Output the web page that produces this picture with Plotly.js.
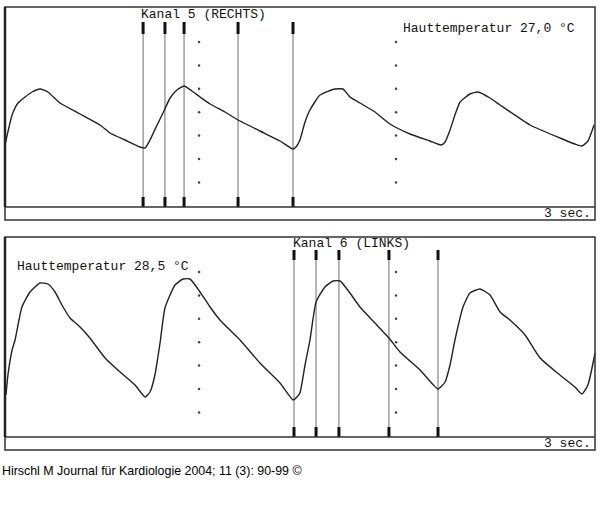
<!DOCTYPE html>
<html><head><meta charset="utf-8">
<script src="https://cdn.plot.ly/plotly-3.0.1.min.js"></script>
<style>body{margin:0;background:#fff}#c{width:600px;height:521px}</style>
</head><body><div id="c"></div>
<script>
// Panel 1: Kanal 5 (RECHTS), time in seconds, amplitude in arbitrary units (0-100)
var t1 = [0,0.036,0.066,0.102,0.137,0.178,0.218,0.279,0.381,0.482,0.533,0.609,0.685,0.711,0.736,0.772,0.802,0.838,0.873,0.909,0.949,0.990,1.041,1.117,1.183,1.294,1.396,1.462,1.477,1.497,1.523,1.548,1.599,1.675,1.716,1.751,1.802,1.878,1.954,2.056,2.157,2.213,2.234,2.259,2.284,2.310,2.360,2.401,2.462,2.513,2.665,2.817,2.893,2.929,2.959,2.990];
var v1 = [31,46,52,55,57.5,59,57.5,52,46.5,41,37,33.5,30,29.5,33.5,41,47,54.5,58.5,60.5,58,55,51.5,47.5,43.5,38,33,29,30,33.5,42.5,48.5,56,59,59,55,52,47.5,41.5,36.5,33,31,32.5,38.5,46,52.5,56.5,57.5,54.5,51,41,34.5,31.5,30.5,33,41];
// Panel 2: Kanal 6 (LINKS)
var t2 = [0.005,0.015,0.036,0.051,0.086,0.127,0.178,0.218,0.254,0.289,0.330,0.381,0.431,0.508,0.584,0.660,0.711,0.736,0.761,0.787,0.812,0.863,0.904,0.939,0.990,1.041,1.091,1.193,1.294,1.396,1.462,1.482,1.497,1.523,1.548,1.579,1.624,1.665,1.701,1.751,1.802,1.878,1.949,2.005,2.107,2.198,2.234,2.259,2.284,2.325,2.360,2.411,2.462,2.513,2.563,2.640,2.716,2.817,2.893,2.929,2.959,2.995];
var v2 = [21,31,43.5,48.5,65,72.5,77,76.5,72.5,66,59.5,55,49.5,39.5,32.5,26,20,22.5,31,47,64.5,76,79,79,72.5,65,58.5,48.5,37,27,18.5,20,22,36,48.5,67.5,75,78,78,72,65,57,49.5,42.5,33.5,24,27.5,36,48.5,65,72,74,71,62.5,58.5,51,39.5,31,25,21.5,26,42];
// Cursor positions (s)
var cursors1 = [0.701,0.812,0.909,1.183,1.462];
var cursors2 = [1.467,1.579,1.695,1.949,2.198];
// Grid (1-s marks) and dotted levels
var gridT = [0.985,1.985];
var gridDotsY = [82.5,70.8,59.1,47.4,35.7,24,12.3];
var label1 = "Kanal 5 (RECHTS)", temp1 = "Hauttemperatur 27,0 °C";
var label2 = "Kanal 6 (LINKS)", temp2 = "Hauttemperatur 28,5 °C";
var scaleLabel = "3 sec.";
var footer = "Hirschl M Journal für Kardiologie 2004; 11 (3): 90-99 ©";

var W=600,H=521;
function py(p){return (H-p)/H;}
function px(p){return p/W;}

function cursorTraces(cs, xa, ya, topHi, topLo){
  var lx=[],ly=[],tx=[],ty=[],bx=[],by=[];
  cs.forEach(function(c){
    lx.push(c,c,null); ly.push(topHi,0,null);
    tx.push(c,c,null); ty.push(topHi,topLo,null);
    bx.push(c,c,null); by.push(5,0,null);
  });
  return [
    {x:lx,y:ly,xaxis:xa,yaxis:ya,mode:'lines',line:{color:'#6e6e6e',width:1},hoverinfo:'skip'},
    {x:tx,y:ty,xaxis:xa,yaxis:ya,mode:'lines',line:{color:'#111',width:3},hoverinfo:'skip'},
    {x:bx,y:by,xaxis:xa,yaxis:ya,mode:'lines',line:{color:'#111',width:3},hoverinfo:'skip'}
  ];
}
function gridTrace(xa,ya){
  var gx=[],gy=[];
  gridT.forEach(function(g){gridDotsY.forEach(function(d){gx.push(g);gy.push(d);});});
  return {x:gx,y:gy,xaxis:xa,yaxis:ya,mode:'markers',marker:{color:'#444',size:2.5},hoverinfo:'skip'};
}

var data = [gridTrace('x','y'), gridTrace('x2','y2')]
  .concat(cursorTraces(cursors1,'x','y',92.5,86.5))
  .concat(cursorTraces(cursors2,'x2','y2',93.5,88.5))
  .concat([
    {x:t1,y:v1,xaxis:'x',yaxis:'y',mode:'lines',line:{color:'#222',width:1.4,shape:'spline',smoothing:0.5},hoverinfo:'skip'},
    {x:t2,y:v2,xaxis:'x2',yaxis:'y2',mode:'lines',line:{color:'#222',width:1.4,shape:'spline',smoothing:0.5},hoverinfo:'skip'}
  ]);

var ax = {range:[0,3],showgrid:false,zeroline:false,showticklabels:false,ticks:'',showline:false,fixedrange:true};
var ay = {range:[0,100],showgrid:false,zeroline:false,showticklabels:false,ticks:'',showline:false,fixedrange:true};
var mono = {family:'Liberation Mono, Courier New, monospace',size:13,color:'#111'};

function box(top,mid,bot){
  return [
    {type:'rect',xref:'paper',yref:'paper',x0:px(5),x1:px(595),y0:py(bot),y1:py(top),line:{color:'#333',width:1.5}},
    {type:'line',xref:'paper',yref:'paper',x0:px(5),x1:px(595),y0:py(mid),y1:py(mid),line:{color:'#333',width:1.5}},
    {type:'line',xref:'paper',yref:'paper',x0:px(5),x1:px(5),y0:py(mid),y1:py(top),line:{color:'#222',width:2.5}}
  ];
}

var layout = {
  width:W,height:H,margin:{l:0,r:0,t:0,b:0},paper_bgcolor:'#fff',plot_bgcolor:'rgba(0,0,0,0)',
  showlegend:false,
  xaxis:Object.assign({domain:[px(5),px(596)],anchor:'y'},ax),
  yaxis:Object.assign({domain:[py(207),py(7)],anchor:'x'},ay),
  xaxis2:Object.assign({domain:[px(5),px(596)],anchor:'y2'},ax),
  yaxis2:Object.assign({domain:[py(437),py(237)],anchor:'x2'},ay),
  shapes: box(7,207,220).concat(box(237,437,450)),
  annotations:[
    {text:label1,xref:'x',yref:'y',x:0.68,y:96.5,xanchor:'left',yanchor:'middle',showarrow:false,font:mono},
    {text:temp1,xref:'x',yref:'y',x:2.01,y:89.5,xanchor:'left',yanchor:'middle',showarrow:false,font:mono},
    {text:label2,xref:'x2',yref:'y2',x:1.45,y:96.5,xanchor:'left',yanchor:'middle',showarrow:false,font:mono},
    {text:temp2,xref:'x2',yref:'y2',x:0.05,y:85.5,xanchor:'left',yanchor:'middle',showarrow:false,font:mono},
    {text:scaleLabel,xref:'paper',yref:'paper',x:px(593),y:py(213.5),xanchor:'right',yanchor:'middle',showarrow:false,font:mono},
    {text:scaleLabel,xref:'paper',yref:'paper',x:px(593),y:py(443.5),xanchor:'right',yanchor:'middle',showarrow:false,font:mono},
    {text:footer,xref:'paper',yref:'paper',x:0,y:py(471),xanchor:'left',yanchor:'middle',showarrow:false,font:{family:'Liberation Sans, Arial, sans-serif',size:12.4,color:'#000'}}
  ]
};
Plotly.newPlot('c',data,layout,{staticPlot:true,displayModeBar:false});
</script></body></html>
